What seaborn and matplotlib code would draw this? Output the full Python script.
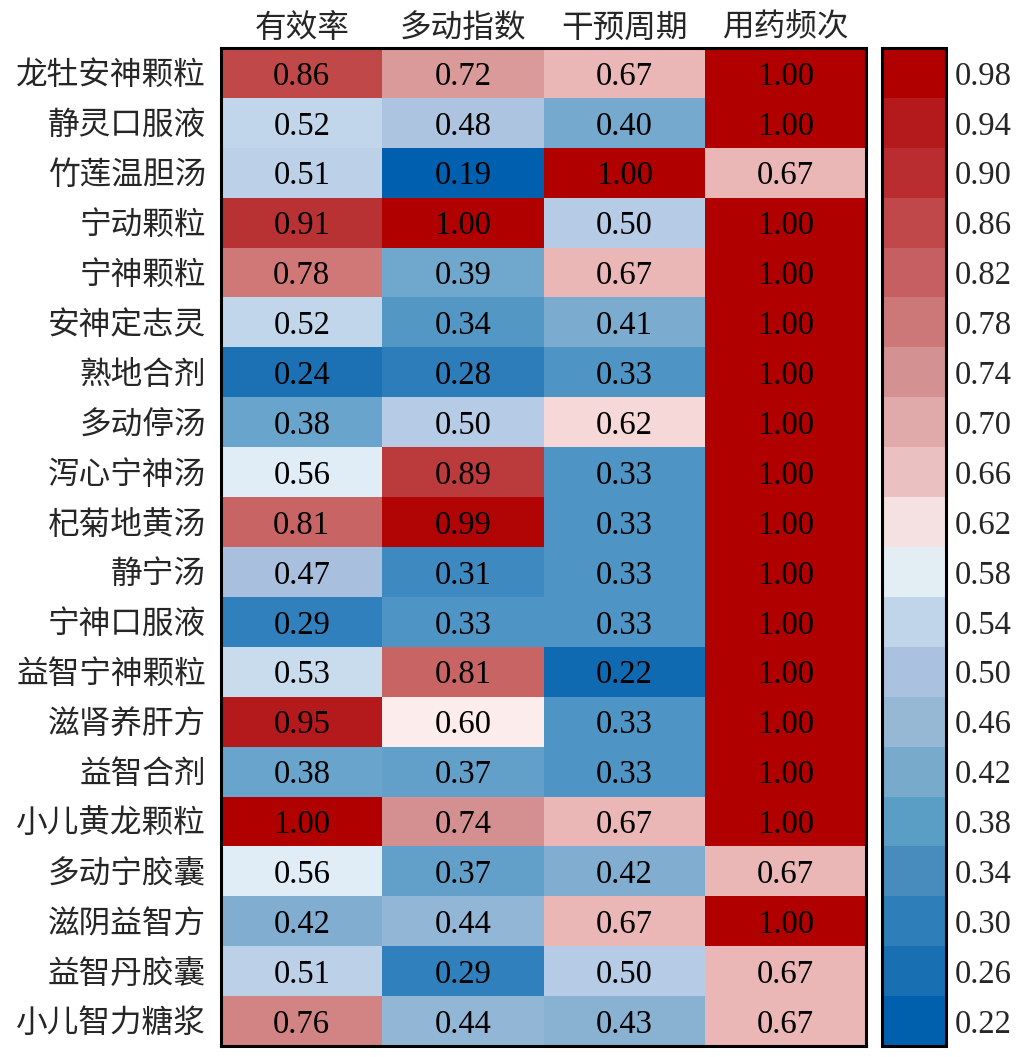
import numpy as np
import pandas as pd
import seaborn as sns
import matplotlib
matplotlib.use("Agg")
import matplotlib.pyplot as plt
from matplotlib.colors import LinearSegmentedColormap, ListedColormap, Normalize
from matplotlib.colorbar import ColorbarBase

# data
drugs = ["龙牡安神颗粒", "静灵口服液", "竹莲温胆汤", "宁动颗粒", "宁神颗粒",
         "安神定志灵", "熟地合剂", "多动停汤", "泻心宁神汤", "杞菊地黄汤",
         "静宁汤", "宁神口服液", "益智宁神颗粒", "滋肾养肝方", "益智合剂",
         "小儿黄龙颗粒", "多动宁胶囊", "滋阴益智方", "益智丹胶囊", "小儿智力糖浆"]
metrics = ["有效率", "多动指数", "干预周期", "用药频次"]
youxiaolv = [0.86, 0.52, 0.51, 0.91, 0.78, 0.52, 0.24, 0.38, 0.56, 0.81,
             0.47, 0.29, 0.53, 0.95, 0.38, 1.00, 0.56, 0.42, 0.51, 0.76]
duodong = [0.72, 0.48, 0.19, 1.00, 0.39, 0.34, 0.28, 0.50, 0.89, 0.99,
           0.31, 0.33, 0.81, 0.60, 0.37, 0.74, 0.37, 0.44, 0.29, 0.44]
zhouqi = [0.67, 0.40, 1.00, 0.50, 0.67, 0.41, 0.33, 0.62, 0.33, 0.33,
          0.33, 0.33, 0.22, 0.33, 0.33, 0.67, 0.42, 0.67, 0.50, 0.43]
pinci = [1.00, 1.00, 0.67, 1.00, 1.00, 1.00, 1.00, 1.00, 1.00, 1.00,
         1.00, 1.00, 1.00, 1.00, 1.00, 1.00, 0.67, 1.00, 0.67, 0.67]
cbar_ticks = [0.22, 0.26, 0.30, 0.34, 0.38, 0.42, 0.46, 0.50, 0.54, 0.58,
              0.62, 0.66, 0.70, 0.74, 0.78, 0.82, 0.86, 0.90, 0.94, 0.98]

df = pd.DataFrame({metrics[0]: youxiaolv, metrics[1]: duodong,
                   metrics[2]: zhouqi, metrics[3]: pinci}, index=drugs)

# colour scale for cells (blue -> white -> dark red)
vmin, vmax = 0.19, 1.0
anchors = [(0.19, "#0060B0"), (0.24, "#1C72B4"), (0.29, "#3080BC"),
           (0.33, "#4E94C4"), (0.38, "#68A4CC"), (0.42, "#82AED0"),
           (0.47, "#A8C0DE"), (0.51, "#BCD0E8"), (0.53, "#C8DCEE"),
           (0.56, "#E2EEF6"), (0.60, "#FDECEC"), (0.62, "#F7D7D7"),
           (0.67, "#EAB6B6"), (0.72, "#DA9A9A"), (0.74, "#D49090"),
           (0.78, "#D07878"), (0.81, "#C86464"), (0.86, "#C04848"),
           (0.91, "#B83234"), (0.95, "#B41A1C"), (1.00, "#B00000")]
cmap = LinearSegmentedColormap.from_list(
    "bwr_custom", [((v - vmin) / (vmax - vmin), c) for v, c in anchors])

# stepped colours for the colour bar
band_colors = ["#0060AE", "#1870B2", "#2E7EBA", "#488CBE", "#5A9EC6",
               "#78AACC", "#96B8D4", "#AAC2E0", "#C0D4EA", "#E2EEF4",
               "#F5E1E2", "#EBC0C1", "#E0AAAB", "#D49192", "#CC7878",
               "#C55F61", "#C0484A", "#B92D30", "#B41A1C", "#B00000"]
cmap_bands = ListedColormap(band_colors)

sns.set_style("white")
plt.rcParams["font.family"] = ["Liberation Serif", "Noto Sans CJK SC"]

fig = plt.figure(figsize=(10.19, 10.57), dpi=100)
ax = fig.add_axes([0.217, 0.0104, 0.633, 0.9442])
cax = fig.add_axes([0.8656, 0.0104, 0.0628, 0.9442])

sns.heatmap(df, ax=ax, cmap=cmap, vmin=vmin, vmax=vmax, annot=True, fmt=".2f",
            annot_kws={"size": 23.5, "color": "black", "va": "center_baseline"},
            cbar=False)

ax.xaxis.tick_top()
ax.tick_params(length=0, labelsize=22.8)
ax.tick_params(axis="x", pad=3)
ax.tick_params(axis="y", pad=11)
ax.set_xlabel("")
ax.set_ylabel("")
plt.setp(ax.get_yticklabels(), rotation=0, va="center_baseline")
plt.setp(ax.get_xticklabels(), rotation=0)
for s in ax.spines.values():
    s.set_visible(True)
    s.set_color("black")
    s.set_linewidth(2.2)

cb = ColorbarBase(cax, cmap=cmap_bands, norm=Normalize(vmin=0.2, vmax=1.0),
                  ticks=cbar_ticks)
cb.ax.set_yticklabels([f"{t:.2f}" for t in cbar_ticks])
cb.ax.tick_params(length=0, labelsize=23.5, pad=6)
plt.setp(cb.ax.get_yticklabels(), va="center_baseline")
cb.outline.set_edgecolor("black")
cb.outline.set_linewidth(2.2)

fig.savefig("out.png", dpi=100)
